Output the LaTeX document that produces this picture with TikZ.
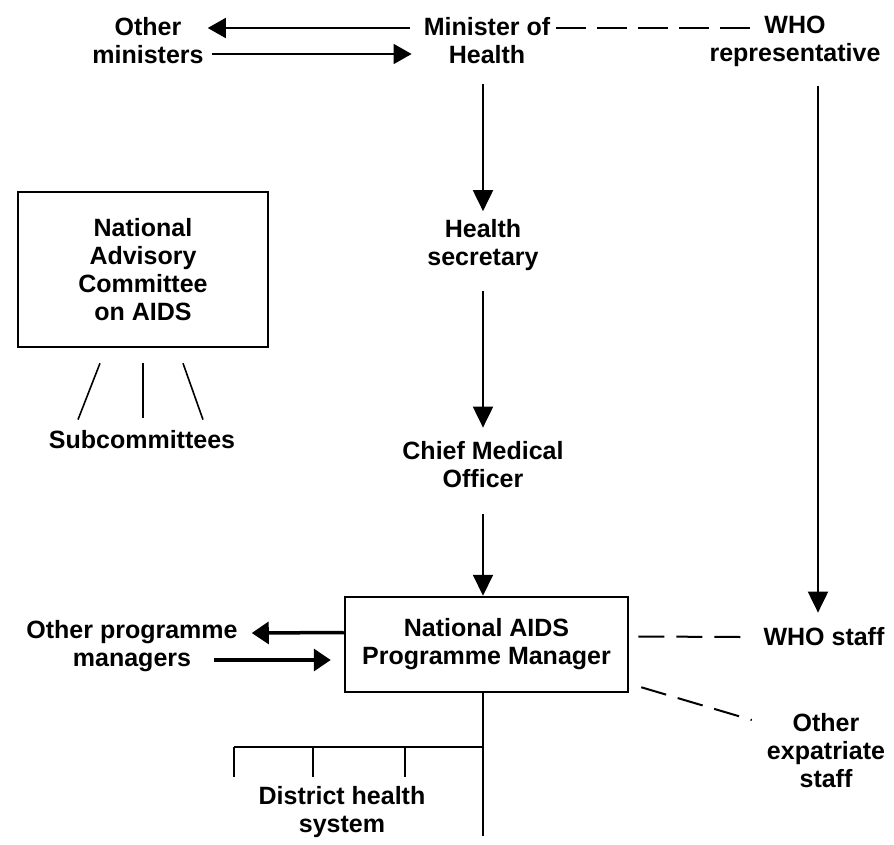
\documentclass[tikz,border=0pt]{standalone}
\usepackage{fontspec}
\setmainfont{Liberation Sans}
\usetikzlibrary{arrows.meta}

\tikzset{
  lbl/.style={font=\bfseries\fontsize{25}{28}\selectfont, align=center, inner sep=0pt},
  frame/.style={lbl, draw=black, line width=2.5pt},
  arr/.style={line width=2pt, -{Triangle[width=20pt,length=21pt]}},
  thinarr/.style={line width=1.6pt, -{Triangle[width=20pt,length=18pt]}},
  fatarr/.style={line width=3.5pt, -{Triangle[width=22pt,length=17pt]}},
  dsh/.style={line width=2.5pt, dash pattern=on 30pt off 11pt},
  thindsh/.style={line width=2pt, dash pattern=on 26pt off 12pt},
  tree/.style={line width=2.5pt}
}

\begin{document}
\begin{tikzpicture}[x=1pt,y=-1pt]
\useasboundingbox (0,0) rectangle (894,844);

        \node[lbl] (others) at (148, 41)   {Other\\ministers};
        \node[lbl] (minister) at (487, 41) {Minister of\\Health};
        \node[lbl] (whorep) at (795, 41)   {WHO\\representative};
        \node[frame,minimum width=250pt,minimum height=155pt] (nacaids) at (143, 269.5) {National\\Advisory\\Committee\\on AIDS};
        \node[lbl] (subc) at (142, 440)    {Subcommittees};
        \node[lbl] (hsec) at (483, 245)    {Health\\secretary};
        \node[lbl] (cmo) at (483, 465)     {Chief Medical\\Officer};
        \node[frame,minimum width=283pt,minimum height=95pt] (napm) at (486.5, 644.5) {National AIDS\\Programme Manager};
        \node[lbl] (otherpm) at (132, 646.5) {Other programme\\managers};
        \node[lbl] (whostaff) at (824, 637) {WHO staff};
        \node[lbl] (expat) at (826, 751)   {Other\\expatriate\\staff};
        \node[lbl] (district) at (342, 812) {District health\\system};
        \coordinate (bar) at (483, 747);
        \coordinate (barL) at (234, 747);
        \coordinate (treeend) at (483, 836);

	% top row
	\draw[thinarr] ([xshift=-14pt,yshift=13pt]minister.west) -- ([xshift=4pt,yshift=13pt]others.east);
	\draw[thinarr] ([xshift=8pt,yshift=-13pt]others.east) -- ([xshift=-12pt,yshift=-13pt]minister.west);
	\draw[dsh] ([xshift=6pt,yshift=13pt]minister.east) -- ([xshift=-45pt,yshift=13pt]whorep.center);

	% chain of command
	\draw[arr, shorten <=20pt, shorten >=8pt] (hsec.north |- minister.south) -- (hsec.north);
	\draw[arr, shorten <=20pt, shorten >=14pt] (hsec.south) -- (cmo.north);
	\draw[arr, shorten <=26pt] (cmo.south) -- (cmo.south |- napm.north);
	\draw[arr] ([xshift=23pt,yshift=-19pt]whorep.south) -- ([xshift=-6pt,yshift=15pt]whostaff.north);

	% advisory committee
	\draw[line width=1.6pt] ([xshift=-43pt,yshift=-15pt]nacaids.south) -- ([xshift=-64pt,yshift=11pt]subc.north);
	\draw[line width=1.6pt] ([yshift=-15pt]nacaids.south) -- ([xshift=1pt,yshift=13pt]subc.north);
	\draw[line width=1.6pt] ([xshift=40pt,yshift=-15pt]nacaids.south) -- ([xshift=61pt,yshift=11pt]subc.north);

	% programme manager
	\draw[fatarr] ([yshift=12pt]napm.west) -- ([xshift=14pt,yshift=13.5pt]otherpm.east);
	\draw[fatarr] ([xshift=-24pt,yshift=-13.5pt]otherpm.east) -- ([xshift=-13pt,yshift=-15.5pt]napm.west);
	\draw[thindsh] ([xshift=9pt,yshift=8pt]napm.east) -- ([xshift=-22pt]whostaff.west);
	\draw[thindsh] ([xshift=12pt,yshift=6pt]napm.south east) -- ([xshift=-15pt,yshift=31pt]expat.west);

	% district tree
	\draw[tree] (napm.south -| bar) -- (treeend);
	\draw[tree] (bar) -- (barL);
	\foreach \tx in {0,79,171}
	  \draw[tree] ([xshift=\tx pt]barL) -- ++(0,30);
\end{tikzpicture}
\end{document}
